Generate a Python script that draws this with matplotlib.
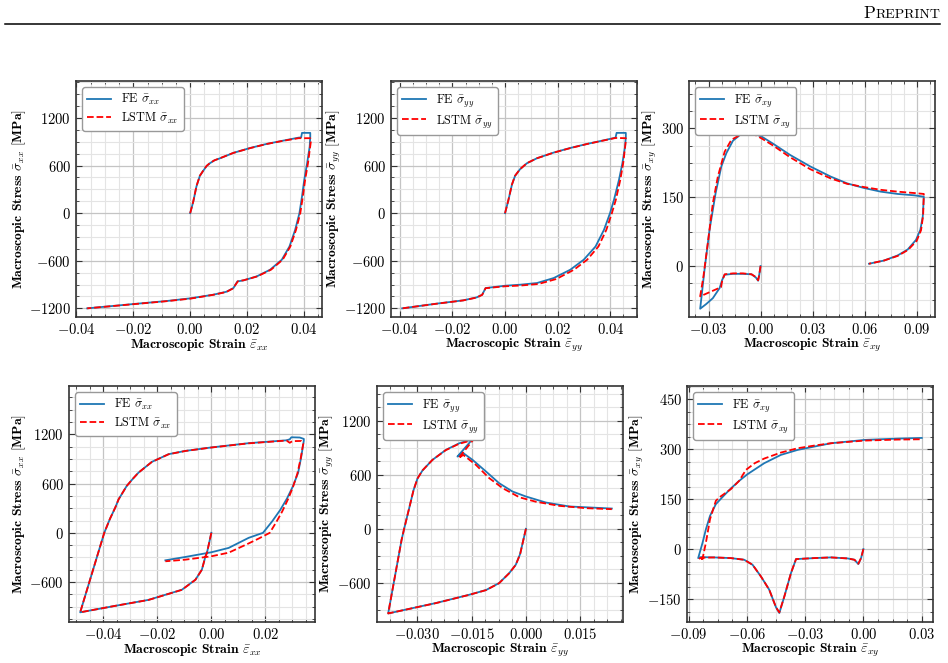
import matplotlib
matplotlib.use("Agg")
import matplotlib.pyplot as plt
from matplotlib.ticker import MultipleLocator, AutoMinorLocator
from matplotlib.lines import Line2D

plt.rcParams['font.family'] = 'serif'
plt.rcParams['font.serif'] = ['cmr10']
plt.rcParams['mathtext.fontset'] = 'cm'
plt.rcParams['axes.formatter.use_mathtext'] = True
plt.rcParams['font.size'] = 10

# ---- top row, panel 1: sigma_xx ----
eps_a_fe = [0, 0.0011, 0.0022, 0.0034, 0.0048, 0.0058, 0.0069, 0.0085, 0.0105, 0.0152, 0.0211, 0.0269, 0.0328, 0.0381,
            0.0390, 0.0393, 0.0422, 0.0422, 0.0420, 0.0411, 0.0401, 0.0393, 0.0384, 0.0369, 0.0349, 0.0322,
            0.0281, 0.0234, 0.0187, 0.0166, 0.0152, 0.0128, 0.0081, 0.0, -0.0084, -0.0201, -0.0362]
sig_a_fe = [0, 147, 336, 470, 545, 595, 629, 665, 692, 760, 822, 873, 915, 952,
            955, 1012, 1012, 960, 839, 629, 420, 210, 0, -210, -420, -587,
            -713, -797, -848, -860, -944, -990, -1028, -1074, -1108, -1146, -1200]
eps_a_ls = [0, 0.0011, 0.0022, 0.0034, 0.0048, 0.0058, 0.0069, 0.0085, 0.0105, 0.0152, 0.0211, 0.0269, 0.0328, 0.0381,
            0.0422, 0.0424, 0.0414, 0.0404, 0.0396, 0.0387, 0.0372, 0.0352, 0.0325, 0.0284, 0.0236, 0.0189,
            0.0168, 0.0150, 0.0126, 0.0080, 0.0, -0.0084, -0.0201, -0.0362]
sig_a_ls = [0, 150, 340, 472, 548, 597, 630, 666, 693, 760, 820, 872, 913, 945,
            945, 900, 629, 420, 210, 0, -210, -420, -587, -713, -797, -845,
            -858, -950, -995, -1030, -1078, -1110, -1148, -1200]

# ---- top row, panel 2: sigma_yy ----
eps_b_fe = [0, 0.0013, 0.0026, 0.0038, 0.0057, 0.0083, 0.0121, 0.0185, 0.0248, 0.0312, 0.0376, 0.0420,
            0.0424, 0.0459, 0.0459, 0.0456, 0.0446, 0.0433, 0.0414, 0.0399, 0.0376, 0.0344, 0.0299, 0.0248,
            0.0185, 0.0121, 0.0057, 0.0, -0.0074, -0.0087, -0.0108, -0.0159, -0.0261, -0.0391]
sig_b_fe = [0, 168, 357, 470, 554, 629, 692, 764, 822, 873, 919, 952,
            1012, 1012, 960, 839, 629, 420, 168, 0, -210, -420, -587, -713,
            -818, -881, -902, -915, -944, -1028, -1062, -1099, -1141, -1200]
eps_b_ls = [0, 0.0013, 0.0026, 0.0038, 0.0057, 0.0083, 0.0121, 0.0185, 0.0248, 0.0312, 0.0376, 0.0420,
            0.0459, 0.0459, 0.0449, 0.0438, 0.0421, 0.0406, 0.0385, 0.0355, 0.0312, 0.0262, 0.0195, 0.0127,
            0.0060, 0.0, -0.0074, -0.0087, -0.0108, -0.0159, -0.0261, -0.0391]
sig_b_ls = [0, 170, 360, 472, 555, 630, 692, 763, 820, 872, 917, 948,
            945, 910, 629, 420, 168, 0, -210, -420, -587, -713, -830, -893,
            -912, -922, -946, -1030, -1064, -1100, -1142, -1200]

# ---- top row, panel 3: sigma_xy ----
eps_c_fe = [0, -0.0008, -0.0014, -0.0027, -0.0052, -0.0101, -0.0159, -0.0207, -0.0221, -0.0236,
            -0.0275, -0.0314, -0.0348, -0.0323, -0.0294, -0.0259, -0.0226, -0.0197, -0.0159, -0.0120,
            -0.0081, -0.0043, 0.0006, 0.0074, 0.0170, 0.0286, 0.0403, 0.0499, 0.0596, 0.0693,
            0.0790, 0.0886, 0.0941, 0.0935, 0.0921, 0.0896, 0.0848, 0.0790, 0.0712, 0.0625]
sig_c_fe = [0, -20, -32, -25, -18, -17, -17, -19, -30, -48,
            -70, -83, -93, -8, 79, 159, 217, 246, 273, 285,
            289, 289, 282, 266, 242, 217, 195, 180, 170, 162,
            157, 154, 151, 108, 79, 57, 36, 23, 12, 5]
eps_c_ls = [0, -0.0008, -0.0014, -0.0027, -0.0052, -0.0101, -0.0159, -0.0207, -0.0221, -0.0228,
            -0.0348, -0.0329, -0.0304, -0.0275, -0.0246, -0.0207, -0.0168, -0.0120, -0.0081, -0.0043,
            0.0006, 0.0074, 0.0170, 0.0286, 0.0403, 0.0499, 0.0596, 0.0693, 0.0790, 0.0886,
            0.0941, 0.0937, 0.0925, 0.0900, 0.0850, 0.0790, 0.0712, 0.0625]
sig_c_ls = [0, -20, -31, -24, -18, -16, -16, -18, -32, -46,
            -66, -22, 50, 137, 195, 249, 275, 285, 290, 288,
            278, 262, 237, 211, 191, 179, 172, 166, 162, 159,
            157, 110, 78, 55, 35, 22, 12, 5]

# ---- bottom row, panel 4: sigma_xx ----
eps_d_fe = [0, -0.0008, -0.0016, -0.0022, -0.0035, -0.0059, -0.0109, -0.0170, -0.0232, -0.0352, -0.0485,
            -0.0396, -0.0375, -0.0355, -0.0343, -0.0313, -0.0290, -0.0269, -0.0220, -0.0158, -0.0096, 0.0, 0.0138, 0.0278,
            0.0290, 0.0296, 0.0327, 0.0342, 0.0342,
            0.0333, 0.0321, 0.0302, 0.0280, 0.0255, 0.0225, 0.0191, 0.0138, 0.0064, 0.0, -0.0096, -0.0170]
sig_d_fe = [0, -120, -240, -290, -449, -572, -694, -755, -817, -888, -969,
            0, 170, 310, 408, 571, 660, 735, 865, 959, 999, 1041, 1093, 1128,
            1140, 1165, 1162, 1145, 1125,
            937, 733, 570, 420, 280, 140, 0, -61, -184, -237, -294, -335]
eps_d_ls = [0, -0.0008, -0.0016, -0.0022, -0.0035, -0.0059, -0.0109, -0.0170, -0.0232, -0.0352, -0.0485,
            -0.0396, -0.0375, -0.0355, -0.0343, -0.0313, -0.0290, -0.0269, -0.0220, -0.0158, -0.0096, 0.0, 0.0138, 0.0278,
            0.0290, 0.0300, 0.0333, 0.0340,
            0.0330, 0.0318, 0.0302, 0.0285, 0.0262, 0.0240, 0.0216, 0.0175, 0.0138, 0.0064, 0.0, -0.0096, -0.0170]
sig_d_ls = [0, -122, -242, -291, -450, -573, -695, -756, -818, -888, -969,
            0, 170, 310, 408, 571, 660, 735, 864, 958, 998, 1040, 1091, 1125,
            1098, 1118, 1120, 1090,
            900, 720, 560, 420, 260, 130, 0, -70, -129, -242, -286, -327, -347]

# ---- bottom row, panel 5: sigma_yy ----
eps_e_fe = [0, -0.0007, -0.0016, -0.0028, -0.0046, -0.0074, -0.0110, -0.0156, -0.0248, -0.0380,
            -0.0343, -0.0336, -0.0322, -0.0310, -0.0299, -0.0285, -0.0258, -0.0221, -0.0184, -0.0147, -0.0145,
            -0.0189, -0.0175, -0.0147, -0.0110, -0.0074, -0.0037, 0.0, 0.0055, 0.0120, 0.0237]
sig_e_fe = [0, -122, -280, -399, -492, -603, -680, -732, -824, -940,
            -122, 0, 230, 430, 560, 650, 765, 876, 950, 994, 1006,
            802, 847, 765, 636, 507, 414, 359, 292, 248, 225]
eps_e_ls = [0, -0.0007, -0.0016, -0.0028, -0.0046, -0.0074, -0.0110, -0.0156, -0.0248, -0.0380,
            -0.0343, -0.0336, -0.0322, -0.0310, -0.0299, -0.0285, -0.0258, -0.0221, -0.0184, -0.0147, -0.0145,
            -0.0186, -0.0173, -0.0138, -0.0101, -0.0064, -0.0018, 0.0028, 0.0092, 0.0166, 0.0237]
sig_e_ls = [0, -123, -282, -400, -493, -604, -681, -733, -825, -940,
            -122, 0, 230, 430, 560, 650, 765, 874, 945, 985, 990,
            784, 821, 710, 562, 451, 350, 300, 255, 229, 218]

# ---- bottom row, panel 6: sigma_xy ----
eps_f_fe = [0, -0.0012, -0.0026, -0.0046, -0.0081, -0.0167, -0.0253, -0.0347, -0.0373, -0.0407,
            -0.0433, -0.0450, -0.0485, -0.0528, -0.0571, -0.0614, -0.0683, -0.0768, -0.0837, -0.0851,
            -0.0829, -0.0811, -0.0790, -0.0760, -0.0720, -0.0683, -0.0640, -0.0597, -0.0511, -0.0425,
            -0.0339, -0.0253, -0.0167, -0.0081, 0.0005, 0.0177, 0.0301]
sig_f_fe = [0, -27, -45, -32, -28, -25, -27, -30, -72, -142,
            -192, -175, -122, -82, -47, -32, -27, -25, -24, -27,
            18, 60, 100, 135, 160, 182, 205, 225, 258, 283,
            298, 308, 318, 323, 328, 332, 334]
eps_f_ls = [0, -0.0012, -0.0026, -0.0046, -0.0081, -0.0167, -0.0253, -0.0347, -0.0373, -0.0407,
            -0.0433, -0.0450, -0.0485, -0.0528, -0.0571, -0.0614, -0.0683, -0.0768, -0.0837, -0.0849,
            -0.0829, -0.0811, -0.0790, -0.0760, -0.0743, -0.0683, -0.0640, -0.0605, -0.0560, -0.0511,
            -0.0425, -0.0339, -0.0253, -0.0167, -0.0081, 0.0005, 0.0177, 0.0301]
sig_f_ls = [0, -27, -44, -32, -28, -25, -27, -30, -72, -142,
            -190, -175, -122, -82, -47, -32, -27, -25, -26, -30,
            -30, 20, 90, 145, 155, 180, 205, 238, 258, 272,
            290, 303, 311, 318, 322, 326, 329, 330]

comps = ['xx', 'yy', 'xy', 'xx', 'yy', 'xy']
ylims = [(-1309, 1666), (-1309, 1666), (-111, 403), (-1087, 1790), (-1035, 1586), (-219, 490)]
xsteps = [0.02, 0.02, 0.03, 0.02, 0.015, 0.03]
ysteps = [600, 600, 150, 600, 600, 150]
curves = [(eps_a_fe, sig_a_fe, eps_a_ls, sig_a_ls),
          (eps_b_fe, sig_b_fe, eps_b_ls, sig_b_ls),
          (eps_c_fe, sig_c_fe, eps_c_ls, sig_c_ls),
          (eps_d_fe, sig_d_fe, eps_d_ls, sig_d_ls),
          (eps_e_fe, sig_e_fe, eps_e_ls, sig_e_ls),
          (eps_f_fe, sig_f_fe, eps_f_ls, sig_f_ls)]

W, H = 948, 663
# axes boxes in pixels: left, top
boxes = [(76, 81), (391, 81), (689, 81), (69, 386), (377, 386), (687, 386)]
aw, ah = 246, 236

fig = plt.figure(figsize=(W / 100, H / 100), dpi=100)

for i in range(6):
    left, top = boxes[i]
    ax = fig.add_axes([left / W, 1 - (top + ah) / H, aw / W, ah / H])
    efe, sfe, els, sls = curves[i]
    c = comps[i]
    ax.plot(efe, sfe, color='#1f77b4', lw=1.3, label=r'FE $\bar{\sigma}_{%s}$' % c)
    ax.plot(els, sls, color='red', ls='--', lw=1.3, label=r'LSTM $\bar{\sigma}_{%s}$' % c)
    ax.set_ylim(ylims[i])
    ax.xaxis.set_major_locator(MultipleLocator(xsteps[i]))
    ax.yaxis.set_major_locator(MultipleLocator(ysteps[i]))
    ax.xaxis.set_minor_locator(AutoMinorLocator(4))
    ax.yaxis.set_minor_locator(AutoMinorLocator(4))
    ax.grid(which='major', color='#c4c4c4', lw=0.9)
    ax.grid(which='minor', color='#e4e4e4', lw=0.8)
    ax.set_axisbelow(True)
    ax.tick_params(which='both', direction='in', top=True, right=True, labelsize=10.5, color='#333333')
    ax.tick_params(which='major', length=4)
    ax.tick_params(which='minor', length=2)
    for s in ax.spines.values():
        s.set_color('#333333')
        s.set_linewidth(1.2)
    ax.set_xlabel(r'Macroscopic Strain $\bar{\varepsilon}_{%s}$' % c, fontfamily='cmb10', fontsize=9.8, labelpad=0)
    ax.set_ylabel(r'Macroscopic Stress $\bar{\sigma}_{%s}$ $[\mathbf{MPa}]$' % c, fontfamily='cmb10',
                  fontsize=9.8, labelpad=1)
    ax.legend(loc='upper left', fontsize=8.8, edgecolor='#999999', framealpha=1.0, fancybox=True,
              labelspacing=0.3, borderpad=0.4, handletextpad=0.8)

# page header
fig.add_artist(Line2D([5 / W, 940 / W], [1 - 24 / H, 1 - 24 / H], color='black', lw=1.1))
t2 = fig.text(940 / W, 1 - 18 / H, 'REPRINT', ha='right', va='baseline', fontsize=10)
r = fig.canvas.get_renderer()
bb = t2.get_window_extent(r)
fig.text(bb.x0 / W, 1 - 18 / H, 'P', ha='right', va='baseline', fontsize=12.5)

fig.savefig('out.png', dpi=100)
